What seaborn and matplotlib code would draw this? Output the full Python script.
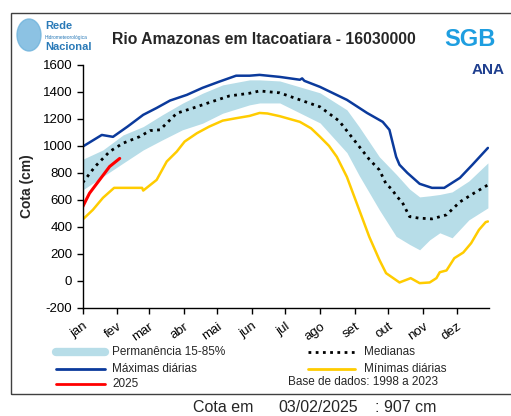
import matplotlib
matplotlib.use("Agg")
import matplotlib.pyplot as plt
import seaborn as sns
from matplotlib.lines import Line2D
from matplotlib.patches import Rectangle, Ellipse

# day-of-year values
max_days = [0, 17, 27, 40, 54, 66, 78, 93, 107, 122, 137, 149, 158, 176, 194, 196, 198, 212, 236, 254,
            268, 274, 280, 283, 290, 301, 312, 323, 337, 348, 362]
max_vals = [995, 1081, 1067, 1143, 1230, 1281, 1336, 1378, 1430, 1476, 1520, 1520, 1526, 1511, 1490,
            1500, 1482, 1437, 1341, 1244, 1178, 1119, 919, 860, 800, 719, 689, 689, 763, 859, 985]

med_days = [0, 11, 24, 36, 51, 60, 69, 84, 98, 113, 131, 149, 158, 176, 194, 212, 229, 238, 247, 256,
            265, 271, 276, 281, 285, 292, 300, 312, 325, 337, 350, 362]
med_vals = [728, 847, 958, 1020, 1069, 1113, 1119, 1242, 1279, 1321, 1370, 1390, 1407, 1393, 1341, 1289,
            1185, 1090, 995, 900, 822, 718, 680, 620, 590, 476, 465, 459, 489, 585, 652, 711]

band_days = [0, 18, 36, 54, 71, 89, 107, 125, 149, 158, 176, 212, 236, 247, 265, 280, 292, 301, 310,
             319, 330, 345, 362]
band_hi = [901, 970, 1081, 1143, 1230, 1316, 1390, 1452, 1489, 1489, 1481, 1393, 1267, 1141, 919, 790,
           680, 622, 630, 640, 659, 740, 874]
band_lo = [674, 773, 872, 970, 1044, 1119, 1168, 1242, 1304, 1318, 1318, 1170, 950, 780, 526, 330, 270,
           230, 304, 356, 319, 452, 541]

min_days = [0, 9, 18, 28, 40, 53, 54, 66, 75, 84, 91, 102, 113, 125, 137, 149, 158, 165, 176, 194, 204,
            212, 220, 227, 236, 247, 256, 265, 271, 283, 293, 301, 310, 316, 319, 325, 332, 340, 347,
            354, 360, 362]
min_vals = [455, 526, 615, 689, 689, 689, 669, 748, 884, 958, 1032, 1094, 1143, 1187, 1205, 1222, 1244,
            1240, 1220, 1178, 1130, 1067, 1000, 919, 770, 526, 326, 156, 57, -12, 20, -17, -12, 20, 64,
            77, 168, 210, 279, 378, 435, 440]

y2025_days = [0, 6, 15, 24, 33]
y2025_vals = [550, 649, 748, 847, 907]

month_days = [0, 31, 59, 90, 120, 151, 181, 212, 243, 273, 304, 334]
month_labels = ["jan", "fev", "mar", "abr", "mai", "jun", "jul", "ago", "set", "out", "nov", "dez"]

c_band = "#b7dde8"
c_max = "#0b3a9c"
c_min = "#ffcc00"
c_red = "#ff0000"

sns.set_style("ticks")
plt.rcParams["font.family"] = ["Liberation Sans", "DejaVu Sans"]
plt.rcParams["axes.unicode_minus"] = False

fig = plt.figure(figsize=(5.11, 4.16), dpi=100)
ax = fig.add_axes([0.162, 0.26, 0.795, 0.584])

ax.fill_between(band_days, band_lo, band_hi, color=c_band, lw=0)
sns.lineplot(x=max_days, y=max_vals, ax=ax, color=c_max, lw=1.8)
sns.lineplot(x=min_days, y=min_vals, ax=ax, color=c_min, lw=1.8)
sns.lineplot(x=med_days, y=med_vals, ax=ax, color="black", lw=2.0, linestyle=(0, (1, 1.6)))
sns.lineplot(x=y2025_days, y=y2025_vals, ax=ax, color=c_red, lw=2.2)

ax.set_xlim(0, 363)
ax.set_ylim(-200, 1600)
ax.set_yticks(range(-200, 1601, 200))
ax.set_xticks(month_days)
ax.set_xticklabels(month_labels, rotation=35, ha="right", rotation_mode="anchor")
ax.tick_params(axis="both", direction="out", length=4, width=1, labelsize=9.5, colors="black")
ax.tick_params(axis="x", pad=5)
sns.despine(ax=ax)
for s in ["left", "bottom"]:
    ax.spines[s].set_color("black")
    ax.spines[s].set_linewidth(1)
ax.set_ylabel("Cota (cm)", fontsize=10, fontweight="bold", labelpad=6)
ax.set_xlabel("")

# title and logos
fig.text(264 / 511, 1 - 39 / 416, "Rio Amazonas em Itacoatiara - 16030000", ha="center", va="center",
         fontsize=11.3, fontweight="bold")
fig.add_artist(Ellipse((29 / 511, 1 - 35 / 416), 24 / 511, 32 / 416, color="#6fb3dc", alpha=0.8))
fig.text(45 / 511, 1 - 26 / 416, "Rede", fontsize=8, color="#2a7ab8", va="center", fontweight="bold")
fig.text(45 / 511, 1 - 37 / 416, "Hidrometeorológica", fontsize=3.5, color="#2a7ab8", va="center")
fig.text(45 / 511, 1 - 47 / 416, "Nacional", fontsize=8, color="#2a7ab8", va="center", fontweight="bold")
fig.text(470 / 511, 1 - 39 / 416, "SGB", fontsize=17, color="#1e9ee0", ha="center", va="center",
         fontweight="bold")
fig.text(488 / 511, 1 - 70 / 416, "ANA", fontsize=11, color="#1f3f8f", ha="center", va="center",
         fontweight="bold")

# legend drawn in figure coordinates
def fx(px):
    return px / 511

def fy(py):
    return 1 - py / 416

fig.add_artist(Line2D([fx(56), fx(105)], [fy(352), fy(352)], color=c_band, lw=6))
fig.add_artist(Line2D([fx(56), fx(105)], [fy(369), fy(369)], color=c_max, lw=2))
fig.add_artist(Line2D([fx(56), fx(105)], [fy(384), fy(384)], color=c_red, lw=2))
fig.add_artist(Line2D([fx(308), fx(355)], [fy(352), fy(352)], color="black", lw=2,
                      linestyle=(0, (1, 1.6))))
fig.add_artist(Line2D([fx(308), fx(355)], [fy(369), fy(369)], color=c_min, lw=2))
leg_fs = 8.5
fig.text(fx(112), fy(352), "Permanência 15-85%", fontsize=leg_fs, va="center")
fig.text(fx(112), fy(369), "Máximas diárias", fontsize=leg_fs, va="center")
fig.text(fx(112), fy(384), "2025", fontsize=leg_fs, va="center")
fig.text(fx(364), fy(352), "Medianas", fontsize=leg_fs, va="center")
fig.text(fx(364), fy(369), "Mínimas diárias", fontsize=leg_fs, va="center")
fig.text(fx(288), fy(382), "Base de dados: 1998 a 2023", fontsize=leg_fs, va="center")

# outer frame
fig.add_artist(Rectangle((fx(11), fy(394)), 1.0, (394 - 13) / 416, fill=False, ec="#404040", lw=1))

fig.text(fx(193), fy(408), "Cota em", fontsize=11.5, va="center")
fig.text(fx(278), fy(408), "03/02/2025", fontsize=11.5, va="center")
fig.text(fx(375), fy(408), ": 907 cm", fontsize=11.5, va="center")

fig.savefig("out.png", dpi=100)
